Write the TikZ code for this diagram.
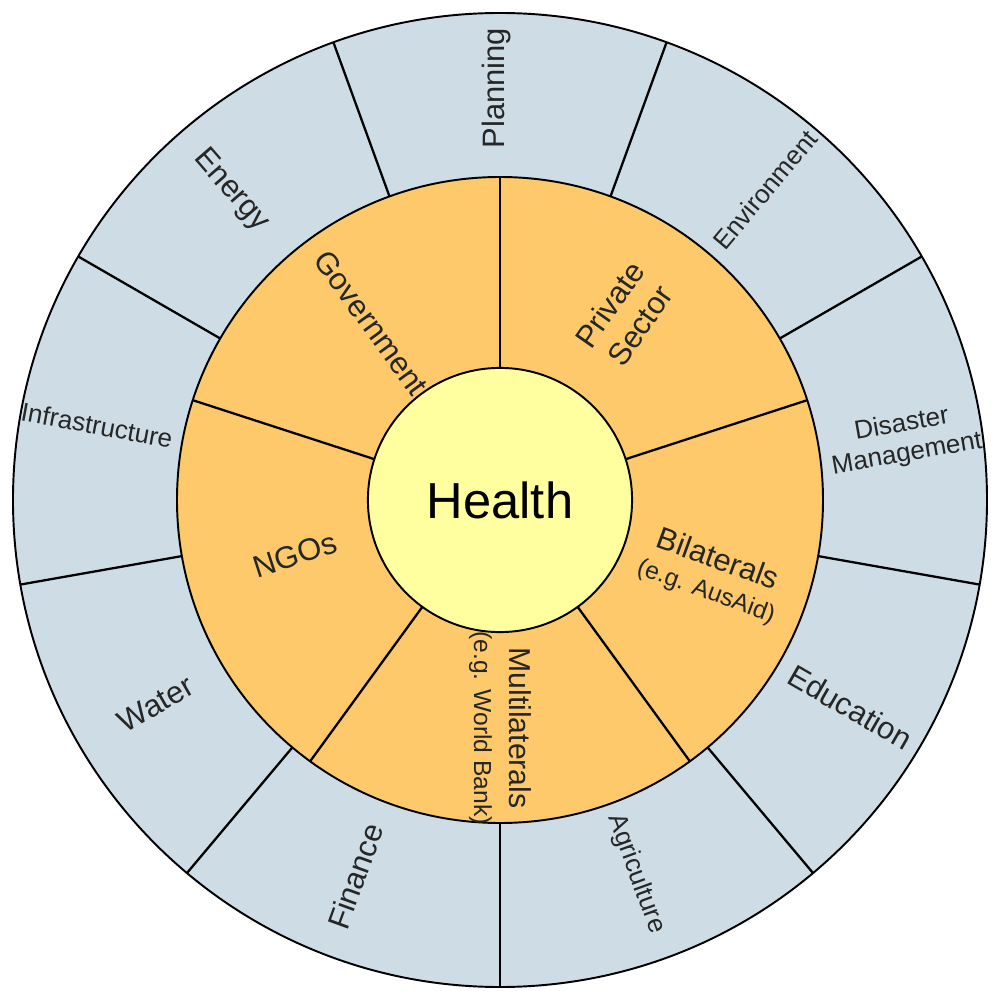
\documentclass[tikz,border=0pt]{standalone}
\usepackage{fontspec}
\setmainfont{Liberation Sans}
\definecolor{outerblue}{RGB}{206,221,229}
\definecolor{midorange}{RGB}{253,201,106}
\definecolor{inneryellow}{RGB}{255,255,160}
\begin{document}
\begin{tikzpicture}[x=0.01cm,y=0.01cm,
  ringline/.style={line width=0.55pt, draw=black},
  divider/.style={line width=0.65pt, draw=black},
  biglabel/.style={font=\fontsize{8.8}{10}\selectfont, inner sep=0pt, align=center, text=black!85},
  smalllabel/.style={font=\fontsize{7.4}{8.6}\selectfont, inner sep=0pt, align=center, text=black!85},
  midlabel/.style={font=\fontsize{8.8}{10}\selectfont, inner sep=0pt, align=center, text=black!85}
]
\useasboundingbox (-500,-500) rectangle (497,500);
% rings
\filldraw[fill=outerblue, ringline] (0,0) circle (487);
\filldraw[fill=midorange, ringline] (0,0) circle (323);
\foreach \a in {30,70,...,350} \draw[divider] (\a:323) -- (\a:487);
\foreach \a in {18,90,162,234,306} \draw[divider] (\a:130) -- (\a:323);
\node[circle, fill=inneryellow, ringline, minimum size=2.64cm, inner sep=0pt,
      font=\fontsize{14.4}{16}\selectfont] (health) at (0,0) {Health};
% outer labels
\node[biglabel, rotate=90] (planning) at (90.5:412) {Planning};
\node[biglabel, rotate=-49] (energy) at (131:410) {Energy};
\node[smalllabel, rotate=50] (environment) at (49.5:408) {Environment};
\node[smalllabel, rotate=10] (disaster) at (8.5:409) {Disaster\\Management};
\node[biglabel, rotate=-30] (education) at (-30.6:407) {Education};
\node[smalllabel, rotate=-70] (agriculture) at (-70:398) {Agriculture};
\node[biglabel, rotate=70] (finance) at (249:403) {Finance};
\node[biglabel, rotate=30] (water) at (210.6:400) {Water};
\node[smalllabel, rotate=-10.5] (infrastructure) at (169.5:410) {Infrastructure};
% middle labels
\node[midlabel, rotate=-54] (government) at (126:219) {Government};
\node[midlabel, rotate=55, font=\fontsize{8.8}{10.5}\selectfont] (private) at (56:223) {Private\\Sector};
\node[midlabel, rotate=-20, font=\fontsize{8.8}{9}\selectfont] (bilaterals) at (-19.5:225) {Bilaterals\\{\fontsize{7}{8}\selectfont (e.g. AusAid)}};
\node[midlabel, rotate=-90, font=\fontsize{8.6}{10}\selectfont] (multilaterals) at (270:228) {Multilaterals\\{\fontsize{7}{8}\selectfont (e.g. World Bank)}};
\node[midlabel, rotate=18] (ngos) at (195:212) {NGOs};
\end{tikzpicture}
\end{document}
